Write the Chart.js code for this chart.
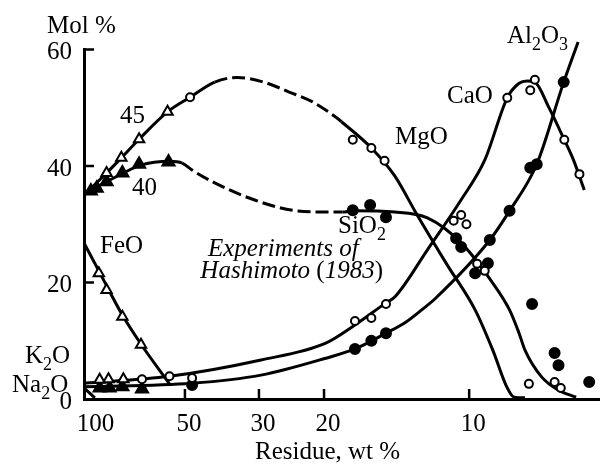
<!DOCTYPE html>
<html>
<head>
<meta charset="utf-8">
<script src="https://cdn.jsdelivr.net/npm/chart.js@4.4.1/dist/chart.umd.min.js"></script>
<style>
  html, body { margin: 0; padding: 0; background: #fff; }
</style>
</head>
<body>
<canvas id="chart" width="608" height="464"></canvas>
<script>
// x = residue, wt %; y = mol %.
const xTicks = [100, 50, 30, 20, 10];
const yTicks = [0, 20, 40, 60];
const xRange = [105.9, 7.08];

// fitted curves
const mgoCurve = [[105.9, 35.0], [89.2, 38.8], [79.8, 41.4], [69.9, 44.6], [56.7, 49.3], [48.2, 51.8], [40.5, 54.4],
  [34.7, 55.2], [29.1, 54.4], [24.7, 52.7], [21.4, 51.0], [18.7, 48.4], [18.1, 47.6],
  [15.4, 43.1], [13.7, 38.3], [12.4, 31.9], [10.9, 23.2], [9.79, 15.3],
  [9.22, 8.4], [8.81, 1.9], [8.63, 0.3], [8.37, 0.2]];
const sio2Curve = [[105.9, 35.0], [100.5, 35.8], [96.1, 36.4], [89.9, 37.2], [78.6, 38.8], [69.4, 40.1], [55.9, 40.8], [51.0, 40.5],
  [47.5, 39.3], [40.5, 37.1], [31.0, 34.2], [23.6, 32.3], [19.5, 32.1], [18.0, 32.1],
  [17.0, 32.3], [13.7, 32.1], [11.8, 31.1], [10.3, 26.8], [9.22, 19.9], [8.75, 15.3], [8.51, 11.3],
  [8.37, 8.4], [8.01, 3.8], [7.69, 1.5], [7.40, 0.3]];
const feoCurve = [[105.9, 26.8], [94.6, 22.0], [79.2, 14.4], [68.9, 9.4], [55.9, 2.6]];
const caoCurve = [[105.9, 2.7], [55.9, 3.9], [29.6, 6.7], [19.8, 9.6], [16.8, 12.7], [14.3, 16.5], [13.7, 17.5],
  [11.8, 25.6], [10.3, 34.2], [9.47, 41.0], [8.81, 51.7], [8.51, 54.2], [8.32, 54.6], [8.15, 54.4],
  [7.87, 50.1], [7.59, 44.5], [7.44, 41.0], [7.28, 35.9]];
const al2o3Curve = [[105.9, 2.1], [47.5, 2.7], [29.6, 4.1], [19.8, 7.0], [16.8, 8.6], [14.3, 11.3], [13.1, 13.0],
  [12.1, 15.3], [11.4, 17.3], [9.31, 27.3], [8.75, 32.3], [8.11, 40.3], [7.60, 54.4], [7.37, 61.3]];
const alkaliCurve = [[105.9, 1.9], [97.5, 0.2]];

// experimental points
const openCircles = [[48.2, 51.8], [17.0, 44.5], [15.4, 43.1], [14.4, 40.9], [9.72, 23.2], [9.47, 22.0],
  [68.4, 3.4], [55.9, 3.9], [47.5, 3.6], [16.8, 13.4], [15.4, 13.9], [14.3, 16.3], [10.6, 30.6], [10.3, 31.6],
  [10.1, 30.0], [8.81, 51.7], [8.25, 53.0], [8.15, 54.8], [7.59, 44.5], [7.35, 38.6], [8.28, 2.6], [7.76, 2.9], [7.65, 1.9]];
const filledCircles = [[17.0, 32.4], [15.5, 33.3], [14.3, 31.2], [10.5, 27.6], [10.3, 26.1], [9.79, 21.6], [9.37, 23.3],
  [8.21, 16.3], [7.76, 7.9], [7.69, 5.8], [7.21, 2.9],
  [47.5, 2.4], [16.8, 8.6], [15.4, 10.0], [14.3, 11.3], [9.31, 27.3], [8.75, 32.3], [8.25, 39.7], [8.11, 40.3],
  [7.60, 54.4], [7.37, 61.3]];
const openTriangles = [[89.2, 38.8], [79.8, 41.4], [69.9, 44.6], [56.7, 49.3],
  [94.6, 21.6], [89.2, 18.7], [79.2, 14.1], [68.9, 9.3],
  [94.0, 3.3], [87.9, 3.4], [78.6, 3.4]];
const filledTriangles = [[100.5, 35.7], [96.1, 36.2], [89.2, 37.3], [79.2, 38.8], [69.9, 40.3], [56.3, 40.7],
  [94.0, 1.9], [87.2, 1.9], [79.2, 2.1], [68.4, 1.7]];

// the residue axis of the figure is spaced like log(residue - 5.5)
const pos = r => -Math.log10(r - 5.5);
const xy = pairs => pairs.map(([r, v]) => ({ x: pos(r), y: v }));

function curve(pairs, dashFrom, dashTo) {
  const ds = {
    data: xy(pairs), borderColor: '#000', borderWidth: 3, pointRadius: 0,
    cubicInterpolationMode: 'monotone', fill: false, clip: false, order: 2
  };
  if (dashFrom != null) {
    ds.segment = { borderDash: c => (c.p0DataIndex >= dashFrom && c.p1DataIndex <= dashTo) ? [13, 5] : undefined };
  }
  return ds;
}

function marks(pairs, style, filled, radius) {
  return {
    data: xy(pairs), showLine: false, pointStyle: style, pointRadius: radius,
    pointBackgroundColor: filled ? '#000' : '#fff', pointBorderColor: '#000',
    pointBorderWidth: 2, clip: false, order: 1
  };
}

const FONT = '"Liberation Serif", "Times New Roman", serif';

function drawText(ctx, parts, x, y, align) {
  const fontOf = k => (k === 'i' ? 'italic ' : '') + (k === 's' ? 18 : 25) + 'px ' + FONT;
  let w = 0;
  parts.forEach(([t, k]) => { ctx.font = fontOf(k); w += ctx.measureText(t).width; });
  let cx = align === 'right' ? x - w : align === 'center' ? x - w / 2 : x;
  parts.forEach(([t, k]) => {
    ctx.font = fontOf(k);
    ctx.fillText(t, cx, y + (k === 's' ? 7 : 0));
    cx += ctx.measureText(t).width;
  });
}

const decorations = {
  id: 'decorations',
  afterDraw(chart) {
    const { ctx, scales: { x, y } } = chart;
    ctx.save();
    ctx.strokeStyle = '#000';
    ctx.fillStyle = '#000';
    ctx.lineWidth = 2.5;
    ctx.beginPath();
    xTicks.slice(1).forEach(v => {
      const px = x.getPixelForValue(pos(v));
      ctx.moveTo(px, y.bottom); ctx.lineTo(px, y.bottom - 10);
    });
    yTicks.slice(1).forEach(v => {
      const py = y.getPixelForValue(v);
      ctx.moveTo(x.left, py); ctx.lineTo(x.left + 10, py);
    });
    ctx.stroke();

    ctx.textBaseline = 'alphabetic';
    drawText(ctx, [['Mol %', '']], 47, 33);
    drawText(ctx, [['45', '']], 120, 123);
    drawText(ctx, [['40', '']], 132, 195);
    drawText(ctx, [['FeO', '']], 100, 253);
    drawText(ctx, [['MgO', '']], 395, 144);
    drawText(ctx, [['CaO', '']], 447, 103);
    drawText(ctx, [['Al', ''], ['2', 's'], ['O', ''], ['3', 's']], 507, 43);
    drawText(ctx, [['SiO', ''], ['2', 's']], 338, 233);
    drawText(ctx, [['K', ''], ['2', 's'], ['O', '']], 25, 363);
    drawText(ctx, [['Na', ''], ['2', 's'], ['O', '']], 12, 392);
    drawText(ctx, [['Experiments of', 'i']], 208, 256);
    drawText(ctx, [['Hashimoto ', 'i'], ['(', ''], ['1983', 'i'], [')', '']], 383, 278, 'right');
    drawText(ctx, [['Residue, wt %', '']], 255, 459);
    ctx.restore();
  }
};

const tickFont = { family: FONT, size: 25 };

new Chart(document.getElementById('chart'), {
  type: 'line',
  data: {
    datasets: [
      curve(mgoCurve, 6, 12),
      curve(sio2Curve, 7, 13),
      curve(feoCurve),
      curve(caoCurve),
      curve(al2o3Curve),
      curve(alkaliCurve),
      marks(openCircles, 'circle', false, 4),
      marks(filledCircles, 'circle', true, 5),
      marks(openTriangles, 'triangle', false, 6),
      marks(filledTriangles, 'triangle', true, 7)
    ]
  },
  options: {
    responsive: false,
    animation: false,
    events: [],
    layout: { padding: { top: 49.5, left: 0, right: 0, bottom: 0 } },
    plugins: { legend: { display: false }, tooltip: { enabled: false } },
    scales: {
      x: {
        type: 'linear',
        min: pos(xRange[0]),
        max: pos(xRange[1]),
        afterBuildTicks: s => { s.ticks = xTicks.map(v => ({ value: pos(v) })); },
        afterFit: s => { s.height = 65; },
        grid: { display: false, drawTicks: false },
        border: { display: true, color: '#000', width: 3 },
        ticks: {
          callback: (v, i) => xTicks[i],
          font: tickFont, color: '#000', padding: 10, labelOffset: 4,
          maxRotation: 0, autoSkip: false
        }
      },
      y: {
        type: 'linear',
        min: 0,
        max: 60,
        afterBuildTicks: s => { s.ticks = yTicks.map(v => ({ value: v })); },
        afterFit: s => { s.width = 84; },
        grid: { display: false, drawTicks: false },
        border: { display: true, color: '#000', width: 3 },
        ticks: { font: tickFont, color: '#000', padding: 12, labelOffset: 3 }
      }
    }
  },
  plugins: [decorations]
});
</script>
</body>
</html>
